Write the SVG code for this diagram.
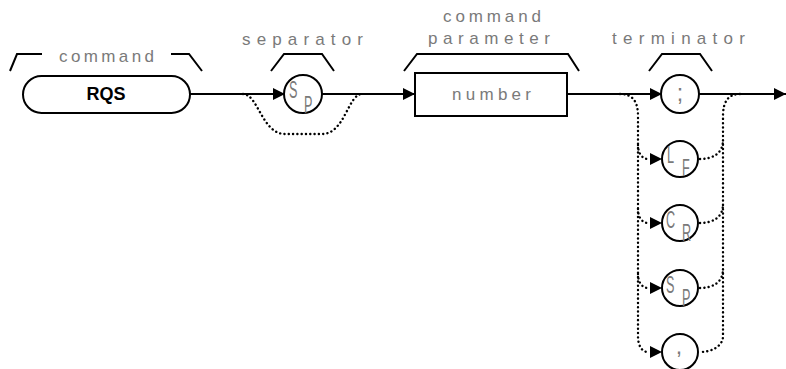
<svg xmlns="http://www.w3.org/2000/svg" width="786" height="369" viewBox="0 0 786 369">
<defs>
<style>
.bg{fill:#fff}
.ln{fill:none;stroke:#000;stroke-width:2}
.dot{fill:none;stroke:#000;stroke-width:2.4;stroke-dasharray:0.1 4.2;stroke-linecap:round}
.nd{fill:#fff;stroke:#000;stroke-width:2}
.lbl{font-family:"Liberation Sans",Arial,sans-serif;font-size:17px;fill:#7a7a7a}
.sym{font-family:"Liberation Sans",Arial,sans-serif;font-size:23px;fill:#7a7a7a}
.kw{font-family:"Liberation Sans",Arial,sans-serif;font-size:18px;font-weight:bold;fill:#000}
.ah{fill:#000}
</style>
<path id="arr" d="M-12,-6 L0,0 L-12,6 Z"/>
</defs>
<rect class="bg" width="786" height="369"/>

<g id="connectors">
<path class="ln" d="M190,94 H284"/>
<path class="ln" d="M322,94 H415"/>
<path class="ln" d="M567,94 H662"/>
<path class="ln" d="M699,94 H786"/>
<path class="dot" d="M243,94 C258,94 262,134 285,134 L322,134 C345,134 348,94 362,94"/>
<path class="dot" d="M620,94 C633,94 638,102 638,116 L638,336 C638,346 642,352 648,352"/>
<path class="dot" d="M638,145 C638,153 642,159 648,159"/>
<path class="dot" d="M638,209 C638,217 642,223 648,223"/>
<path class="dot" d="M638,274 C638,282 642,288 648,288"/>
<path class="dot" d="M740,94 C728,94 723,102 723,116 L723,336 C723,346 712,352 700,352"/>
<path class="dot" d="M700,159 C712,159 723,154 723,140"/>
<path class="dot" d="M700,223 C712,223 723,218 723,204"/>
<path class="dot" d="M700,288 C712,288 723,283 723,269"/>
<use href="#arr" class="ah" x="285" y="94"/>
<use href="#arr" class="ah" x="415" y="94"/>
<use href="#arr" class="ah" x="662" y="94"/>
<use href="#arr" class="ah" x="786" y="94"/>
<use href="#arr" class="ah" x="662" y="159"/>
<use href="#arr" class="ah" x="662" y="223"/>
<use href="#arr" class="ah" x="662" y="288"/>
<use href="#arr" class="ah" x="662" y="352"/>
</g>

<g id="label-command">
<path class="ln" d="M10,71 L17,54 H42"/>
<path class="ln" d="M171,54 H189 L202,71"/>
<text class="lbl" x="59" y="62" textLength="95" lengthAdjust="spacing">command</text>
</g>

<g id="node-RQS">
<rect class="nd" x="23" y="76" width="167" height="37" rx="18.5"/>
<text class="kw" x="106" y="100" text-anchor="middle">RQS</text>
</g>

<g id="label-separator">
<path class="ln" d="M271,71 L284,54 H322 L334,71"/>
<text class="lbl" x="242" y="45" textLength="121" lengthAdjust="spacing">separator</text>
</g>

<g id="node-sep-SP">
<circle class="nd" cx="303" cy="94" r="19"/>
<text class="sym" transform="translate(289,98) scale(0.55,1)">S</text>
<text class="sym" transform="translate(304,113) scale(0.55,1)">P</text>
</g>

<g id="label-parameter">
<path class="ln" d="M404,71 L417,54 H568 L579,71"/>
<text class="lbl" x="443" y="22" textLength="98" lengthAdjust="spacing">command</text>
<text class="lbl" x="428" y="44" textLength="122" lengthAdjust="spacing">parameter</text>
</g>

<g id="node-number">
<rect class="nd" x="415" y="73" width="152" height="43"/>
<text class="lbl" x="452" y="100" textLength="79" lengthAdjust="spacing">number</text>
</g>

<g id="label-terminator">
<path class="ln" d="M649,71 L662,54 H700 L712,71"/>
<text class="lbl" x="612" y="44" textLength="133" lengthAdjust="spacing">terminator</text>
</g>

<g id="node-semicolon">
<circle class="nd" cx="680" cy="94" r="19"/>
<text class="sym" x="680" y="101" text-anchor="middle">;</text>
</g>

<g id="node-LF">
<circle class="nd" cx="680" cy="159" r="18"/>
<text class="sym" transform="translate(667,163) scale(0.55,1)">L</text>
<text class="sym" transform="translate(682,176) scale(0.55,1)">F</text>
</g>

<g id="node-CR">
<circle class="nd" cx="680" cy="223" r="18"/>
<text class="sym" transform="translate(666,228) scale(0.55,1)">C</text>
<text class="sym" transform="translate(682,241) scale(0.55,1)">R</text>
</g>

<g id="node-term-SP">
<circle class="nd" cx="680" cy="288" r="18"/>
<text class="sym" transform="translate(666,293) scale(0.55,1)">S</text>
<text class="sym" transform="translate(682,306) scale(0.55,1)">P</text>
</g>

<g id="node-comma">
<circle class="nd" cx="680" cy="352" r="18"/>
<text class="sym" x="679" y="354" text-anchor="middle">,</text>
</g>
</svg>
